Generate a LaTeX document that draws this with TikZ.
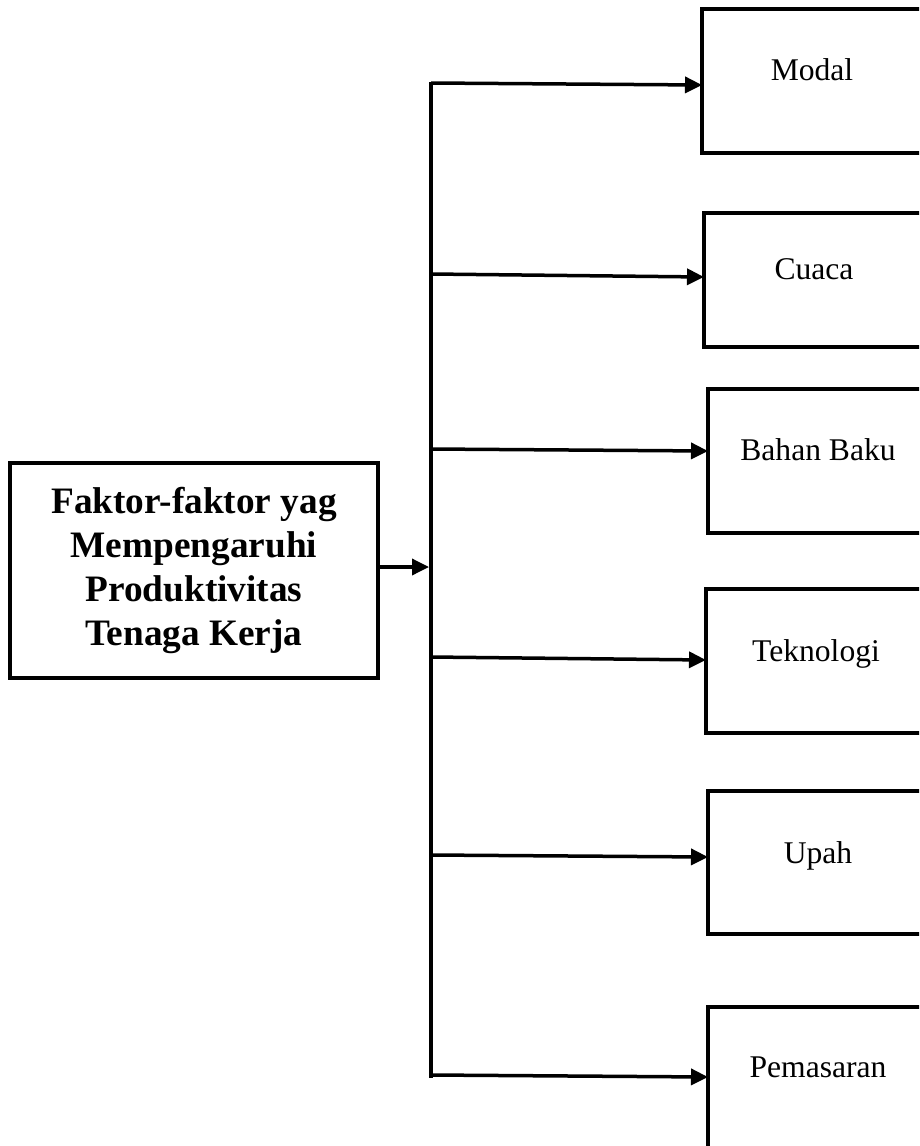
\documentclass[tikz,border=0pt]{standalone}
\usepackage{fontspec}
\setmainfont{Liberation Serif}
\usetikzlibrary{arrows.meta}
\begin{document}
\begin{tikzpicture}[x=1pt,y=-1pt,
  factor/.style={draw, line width=4.5pt, outer sep=0pt, inner sep=0pt,
    minimum width=220pt, anchor=north west,
    font=\fontsize{31.6}{38}\selectfont},
  mainbox/.style={draw, line width=4.5pt, outer sep=0pt, inner sep=0pt,
    minimum width=368pt, minimum height=215pt, align=center,
    font=\fontsize{37.3}{44}\selectfont\bfseries},
  link/.style={line width=3.5pt, -{Triangle[length=17pt,width=16pt]}},
  bus/.style={line width=4pt}]
\useasboundingbox (0,0) rectangle (919,1146);
\clip (0,0) rectangle (919,1146);

% main box
\node[mainbox] (main) at (194,570.5)
  {Faktor-faktor yag\\Mempengaruhi\\Produktivitas\\Tenaga Kerja};

% factor boxes
\node[factor, text height=71pt, text depth=73pt] (modal) at (702,9) {Modal};
\node[factor, text height=66pt, text depth=68pt] (cuaca) at (704,213) {Cuaca};
\node[factor, text height=71pt, text depth=73pt] (bahan) at (708,389) {Bahan Baku};
\node[factor, text height=72pt, text depth=72pt] (tekno) at (706,589) {Teknologi};
\node[factor, text height=72pt, text depth=71pt] (upah) at (708,791) {Upah};
\node[factor, text height=70pt, text depth=74pt] (pasar) at (708,1007) {Pemasaran};

% bus
\coordinate (bustop) at (431,82);
\coordinate (busbot) at (431,1078);
\coordinate (busin) at (429,567);
\draw[bus] (bustop) -- (busbot);

\draw[link] ([yshift=3.5pt]main.east) -- (busin);

% branch starts
\coordinate (s1) at (431,83);
\coordinate (s2) at (431,274);
\coordinate (s3) at (431,449);
\coordinate (s4) at (431,657);
\coordinate (s5) at (431,855);
\coordinate (s6) at (431,1075);

\draw[link] (s1) -- ([yshift=-4pt]modal.west);
\draw[link] (s2) -- ([yshift=3pt]cuaca.west);
\draw[link] (s3) -- ([yshift=10pt]bahan.west);
\draw[link] (s4) -- ([yshift=1pt]tekno.west);
\draw[link] (s5) -- ([yshift=5.5pt]upah.west);
\draw[link] (s6) -- ([yshift=2pt]pasar.west);
\end{tikzpicture}
\end{document}
